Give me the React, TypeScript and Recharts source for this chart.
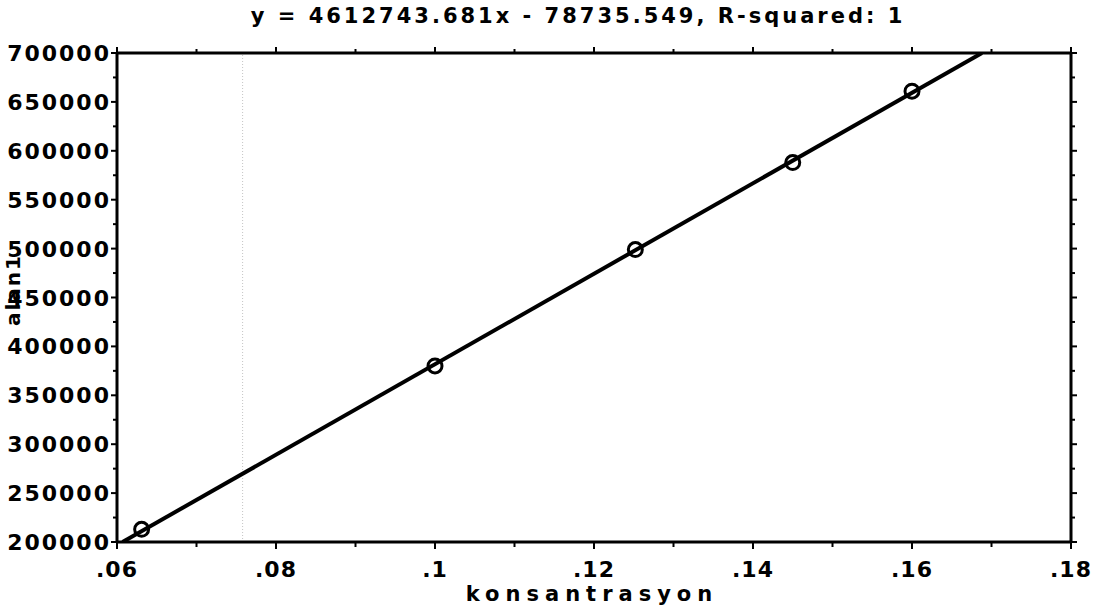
import React from 'react';
import { ScatterChart, Scatter, XAxis, YAxis, ReferenceLine } from 'recharts';

// measured points (konsantrasyon vs alan1)
const konsantrasyon = [0.0631, 0.1, 0.1252, 0.145, 0.16];
const alan1 = [213000, 380000, 499000, 588000, 661000];

// fitted line end points
const fitX = [0.0607, 0.1688];
const fitY = [200000, 700000];

const xTicks = [0.06, 0.07, 0.08, 0.09, 0.1, 0.11, 0.12, 0.13, 0.14, 0.15, 0.16, 0.17, 0.18];
const xMajor = [0.06, 0.08, 0.1, 0.12, 0.14, 0.16, 0.18];
const xLabels = ['.06', '.08', '.1', '.12', '.14', '.16', '.18'];

const yTicks = [
  200000, 225000, 250000, 275000, 300000, 325000, 350000, 375000, 400000, 425000, 450000,
  475000, 500000, 525000, 550000, 575000, 600000, 625000, 650000, 675000, 700000,
];
const yMajor = [200000, 250000, 300000, 350000, 400000, 450000, 500000, 550000, 600000, 650000, 700000];
const yLabels = ['200000', '250000', '300000', '350000', '400000', '450000', '500000', '550000', '600000', '650000', '700000'];

const TITLE = 'y = 4612743.681x - 78735.549, R-squared: 1';

const points = konsantrasyon.map((x, i) => ({ x, y: alan1[i] }));
const fitLine = fitX.map((x, i) => ({ x, y: fitY[i] }));

const FONT = '"DejaVu Sans", sans-serif';
const INK = '#000';

const majorIndex = (list: number[], v: number) => list.findIndex(m => Math.abs(m - v) < 1e-9);

const BottomTick = (props: any) => {
  const { x, y, payload } = props;
  const idx = majorIndex(xMajor, payload.value);
  const major = idx >= 0;
  return (
    <g>
      <line x1={x} x2={x} y1={y} y2={y + (major ? 7 : 5)} stroke={INK} strokeWidth={2} />
      {major && (
        <text x={x} y={y + 35} textAnchor="middle" fontFamily={FONT} fontWeight="bold" fontSize={22} letterSpacing={1} fill={INK}>
          {xLabels[idx]}
        </text>
      )}
    </g>
  );
};

const TopTick = (props: any) => {
  const { x, y, payload } = props;
  const major = majorIndex(xMajor, payload.value) >= 0;
  return <line x1={x} x2={x} y1={y} y2={y - (major ? 6 : 4)} stroke={INK} strokeWidth={2} />;
};

const LeftTick = (props: any) => {
  const { x, y, payload } = props;
  const idx = majorIndex(yMajor, payload.value);
  const major = idx >= 0;
  return (
    <g>
      <line x1={x} x2={x - (major ? 6 : 4)} y1={y} y2={y} stroke={INK} strokeWidth={2} />
      {major && (
        <text x={x - 6} y={y + 8} textAnchor="end" fontFamily={FONT} fontWeight="bold" fontSize={22} letterSpacing={2} fill={INK}>
          {yLabels[idx]}
        </text>
      )}
    </g>
  );
};

const RightTick = (props: any) => {
  const { x, y, payload } = props;
  const major = majorIndex(yMajor, payload.value) >= 0;
  return <line x1={x} x2={x + (major ? 6 : 4)} y1={y} y2={y} stroke={INK} strokeWidth={2} />;
};

const TitleLabel = () => (
  <text x={578} y={23} textAnchor="middle" fontFamily={FONT} fontWeight="bold" fontSize={21} letterSpacing={3} fill={INK}>
    {TITLE}
  </text>
);

const XTitle = () => (
  <text x={592} y={601} textAnchor="middle" fontFamily={FONT} fontWeight="bold" fontSize={21} letterSpacing={6} fill={INK}>
    konsantrasyon
  </text>
);

const YTitle = () => (
  <text x={20} y={290} transform="rotate(-90 20 290)" textAnchor="middle" fontFamily={FONT} fontWeight="bold" fontSize={20} letterSpacing={2} fill={INK}>
    alan1
  </text>
);

const RingDot = (props: any) => {
  const { cx, cy } = props;
  return <circle cx={cx} cy={cy} r={7} fill="none" stroke={INK} strokeWidth={3} />;
};

const axisLine = { stroke: INK, strokeWidth: 3 };

export default function App() {
  return (
    <div style={{ position: 'fixed', left: 0, top: 0, background: '#fff' }}>
      <ScatterChart width={1096} height={614} margin={{ top: 0, right: 0, bottom: 0, left: 0 }}>
        <XAxis
          xAxisId="bottom"
          dataKey="x"
          type="number"
          orientation="bottom"
          domain={[0.06, 0.18]}
          ticks={xTicks}
          interval={0}
          height={72}
          tickSize={0}
          tickMargin={0}
          tickLine={false}
          axisLine={axisLine}
          tick={<BottomTick />}
          label={<XTitle />}
          allowDataOverflow
        />
        <XAxis
          xAxisId="top"
          dataKey="x"
          type="number"
          orientation="top"
          domain={[0.06, 0.18]}
          ticks={xTicks}
          interval={0}
          height={53}
          tickSize={0}
          tickMargin={0}
          tickLine={false}
          axisLine={axisLine}
          tick={<TopTick />}
          label={<TitleLabel />}
          allowDataOverflow
        />
        <YAxis
          yAxisId="left"
          dataKey="y"
          type="number"
          orientation="left"
          domain={[200000, 700000]}
          ticks={yTicks}
          interval={0}
          width={117}
          tickSize={0}
          tickMargin={0}
          tickLine={false}
          axisLine={axisLine}
          tick={<LeftTick />}
          label={<YTitle />}
          allowDataOverflow
        />
        <YAxis
          yAxisId="right"
          dataKey="y"
          type="number"
          orientation="right"
          domain={[200000, 700000]}
          ticks={yTicks}
          interval={0}
          width={25}
          tickSize={0}
          tickMargin={0}
          tickLine={false}
          axisLine={axisLine}
          tick={<RightTick />}
          allowDataOverflow
        />
        <ReferenceLine
          xAxisId="bottom"
          yAxisId="left"
          x={0.0758}
          stroke="#c4c4c4"
          strokeWidth={1}
          strokeDasharray="1 2"
        />
        <Scatter
          data={fitLine}
          xAxisId="top"
          yAxisId="right"
          line={{ stroke: INK, strokeWidth: 4 }}
          shape={() => null}
          isAnimationActive={false}
        />
        <Scatter
          data={points}
          xAxisId="bottom"
          yAxisId="left"
          shape={<RingDot />}
          isAnimationActive={false}
        />
      </ScatterChart>
    </div>
  );
}
